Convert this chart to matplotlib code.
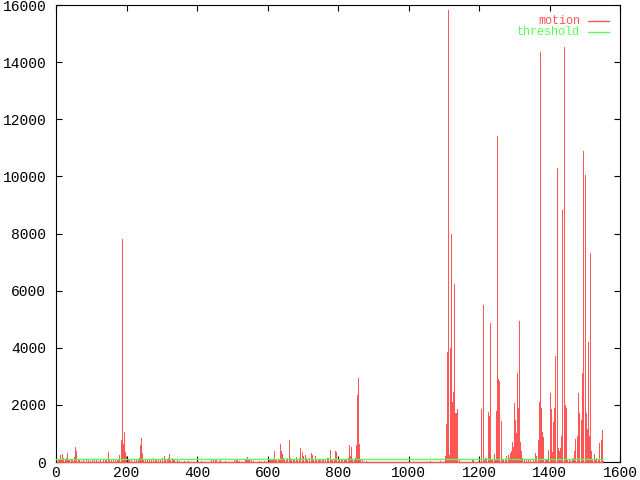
import matplotlib.pyplot as plt
import numpy as np

plt.rcParams['font.family'] = ['Liberation Mono', 'DejaVu Sans Mono']

# motion impulses: (frame, value)
motion_early = [
    (5, 60), (8, 120), (11, 240), (14, 90), (17, 290), (21, 130), (25, 80), (28, 150),
    (31, 300), (34, 90), (38, 70), (42, 60), (46, 110), (50, 80), (52, 180), (55, 520),
    (58, 400), (61, 120), (66, 60), (72, 50), (78, 80), (84, 60), (90, 90), (96, 50),
    (102, 70), (108, 60), (114, 80), (120, 50), (126, 90), (132, 60), (138, 80), (143, 100),
    (147, 360), (151, 90), (156, 70), (162, 60), (168, 90), (172, 80), (176, 120), (180, 250),
    (183, 760), (185, 500), (187, 7800), (189, 320), (191, 620), (194, 1060), (196, 360),
    (199, 200), (203, 100), (208, 80), (214, 60), (220, 90), (226, 70), (232, 110), (236, 150),
    (238, 600), (241, 840), (244, 300), (247, 120), (252, 80), (258, 90), (264, 60), (270, 100),
    (275, 130), (280, 90), (285, 110), (290, 70), (296, 60), (302, 130), (306, 220), (310, 80),
    (315, 100), (318, 150), (321, 280), (324, 100), (328, 130), (331, 120), (336, 60), (342, 70),
    (350, 40),
]
motion_quiet = [
    (362, 40), (375, 30), (410, 40), (440, 60), (446, 90), (450, 70), (455, 80), (462, 50),
    (466, 70), (480, 40), (505, 60), (510, 100), (514, 70), (520, 50), (535, 90), (538, 120),
    (541, 180), (544, 100), (548, 60), (552, 80), (560, 40), (575, 30), (590, 50),
]
motion_mid = [
    (603, 60), (607, 80), (610, 100), (613, 90), (616, 120), (618, 385), (621, 110), (625, 90),
    (629, 120), (632, 90), (635, 620), (638, 370), (641, 290), (644, 150), (648, 100), (652, 120),
    (656, 150), (661, 770), (664, 150), (668, 110), (672, 90), (676, 120), (681, 160), (685, 100),
    (689, 130), (693, 490), (697, 340), (700, 200), (705, 250), (709, 130), (713, 110), (717, 150),
    (722, 320), (725, 230), (729, 120), (734, 200), (738, 110), (742, 90), (746, 80), (750, 100),
    (754, 70), (758, 90), (763, 120), (769, 150), (773, 130), (776, 420), (780, 110), (784, 90),
    (788, 120), (791, 370), (795, 350), (799, 120), (804, 80), (808, 90), (812, 70), (816, 100),
    (820, 80), (824, 90), (828, 150), (831, 600), (834, 200), (837, 520), (841, 120), (846, 100),
    (849, 150), (851, 600), (854, 2350), (857, 2950), (860, 620), (863, 90), (867, 120),
    (880, 20), (920, 15), (1000, 15), (1060, 20), (1090, 30),
]
motion_late1 = [
    (1103, 200), (1106, 1330), (1108, 1300), (1110, 3860), (1113, 15820), (1115, 245),
    (1117, 3900), (1119, 3980), (1121, 8000), (1123, 2100), (1124, 1960), (1126, 1800),
    (1127, 2460), (1130, 6230), (1131, 1700), (1133, 1645), (1135, 1650), (1136, 1700),
    (1138, 1750), (1139, 1840), (1142, 80), (1181, 70), (1184, 70),
]
motion_late2 = [
    (1207, 1840), (1210, 5495), (1212, 4760), (1215, 90), (1218, 150), (1221, 130), (1225, 1750),
    (1229, 1610), (1231, 4860), (1234, 90), (1238, 120), (1243, 270), (1246, 80), (1249, 1800),
    (1251, 11410), (1254, 2900), (1257, 2850), (1261, 1435), (1265, 90), (1269, 60), (1274, 110),
    (1278, 200), (1282, 250), (1285, 150), (1288, 300), (1291, 400), (1294, 710), (1297, 520),
    (1299, 2050), (1302, 1470), (1305, 1015), (1308, 3100), (1311, 1900), (1313, 4930),
    (1316, 710), (1319, 390), (1323, 150), (1328, 80), (1334, 100), (1340, 60),
]
motion_late3 = [
    (1346, 80), (1352, 120), (1358, 300), (1362, 200), (1366, 770), (1369, 2100), (1373, 14350),
    (1376, 1900), (1378, 1060), (1380, 670), (1382, 880), (1386, 100), (1390, 60), (1394, 120),
    (1397, 410), (1400, 2400), (1403, 1800), (1405, 1850), (1408, 350), (1411, 1400),
    (1414, 1900), (1417, 3700), (1421, 10290), (1424, 500), (1427, 400), (1430, 480), (1433, 900),
    (1436, 8820), (1441, 14525), (1444, 2000), (1447, 1900), (1450, 100), (1454, 60), (1458, 40),
]
motion_late4 = [
    (1463, 80), (1466, 150), (1469, 400), (1472, 800), (1477, 920), (1480, 1000), (1481, 2400),
    (1485, 1700), (1488, 1480), (1491, 3100), (1495, 10885), (1500, 10045), (1503, 1700),
    (1505, 870), (1507, 1160), (1509, 4200), (1512, 900), (1515, 7315), (1518, 400), (1521, 80),
    (1525, 270), (1529, 60), (1533, 150), (1537, 90), (1541, 650), (1545, 770), (1549, 1120),
    (1552, 50),
]
threshold_level = 100

red = '#ff5555'
green = '#55ff55'
lw = 0.72  # one pixel at 100 dpi
lw_line = 1.0

data = np.array(motion_early + motion_quiet + motion_mid + motion_late1
                + motion_late2 + motion_late3 + motion_late4, dtype=float)
frames = data[:, 0]
values = data[:, 1]

fig = plt.figure(figsize=(6.4, 4.8), dpi=100)
ax = fig.add_axes([56/640, 18/480, 564/640, 457/480])

ax.vlines(frames, 0, values, color=red, linewidth=lw, antialiased=False)
ax.hlines(0, 0, frames.max(), color=red, linewidth=lw_line, zorder=3, clip_on=False,
          snap=True)
ax.plot([0, frames.max()], [threshold_level, threshold_level], color=green,
        linewidth=lw_line, snap=True, zorder=4)

ax.set_xlim(0, 1600)
ax.set_ylim(0, 16000)
ax.set_xticks(np.arange(0, 1601, 200))
ax.set_yticks(np.arange(0, 16001, 2000))
ax.tick_params(direction='in', top=True, right=True, length=4, width=0.8,
               labelsize=10.5)
ax.tick_params(axis='y', pad=7)
ax.tick_params(axis='x', pad=3)
for s in ax.spines.values():
    s.set_linewidth(0.8)

# gnuplot style key: label then sample
tr = ax.transAxes
ax.text(0.929, 0.965, 'motion', color=red, ha='right', va='center',
        fontsize=8.5, transform=tr)
ax.plot([0.943, 0.9805], [0.965, 0.965], color=red, linewidth=lw_line,
        snap=True, transform=tr)
ax.text(0.929, 0.941, 'threshold', color=green, ha='right', va='center',
        fontsize=8.5, transform=tr)
ax.plot([0.943, 0.9805], [0.941, 0.941], color=green, linewidth=lw_line,
        snap=True, transform=tr)

fig.savefig('out.png', dpi=100)
